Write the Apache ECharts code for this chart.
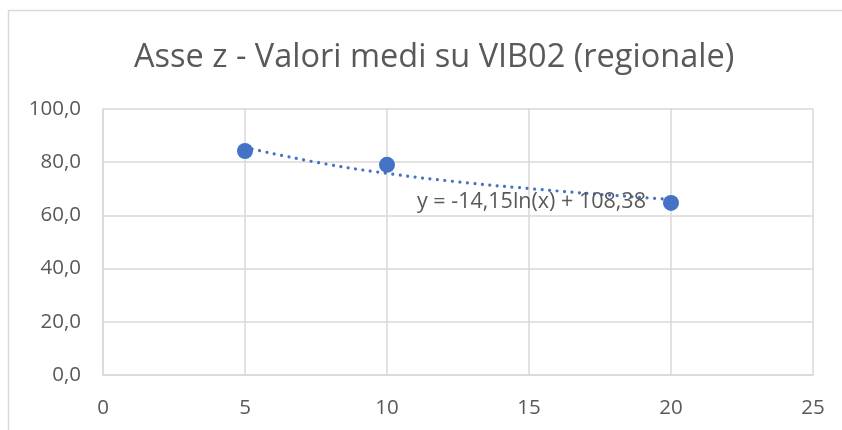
<!DOCTYPE html>
<html><head><meta charset="utf-8">
<script src="https://cdn.jsdelivr.net/npm/echarts@6/dist/echarts.min.js"></script>
<style>html,body{margin:0;padding:0;background:#fff}#c{width:842px;height:430px}</style>
</head><body><div id="c"></div>
<script>
const titleText = 'Asse z - Valori medi su VIB02 (regionale)';
const xValues = [5, 10, 20];
const yValues = [84.2, 79.0, 64.7];
const trendX = [5, 7.5, 10, 12.5, 15, 17.5, 20];
const trendY = [85.6, 80.0, 75.8, 72.6, 70.1, 67.9, 66.0];
const trendLabel = 'y = -14,15ln(x) + 108,38';

const chart = echarts.init(document.getElementById('c'));
const font = 'Open Sans, Liberation Sans, sans-serif';
chart.setOption({
  animation: false,
  backgroundColor: '#fff',
  title: { text: titleText, left: 129, top: 36,
    textStyle: { fontFamily: font, fontWeight: 'normal', fontSize: 32.5, color: '#595959' } },
  grid: { left: 103, right: 29, top: 109, bottom: 55 },
  xAxis: { type: 'value', min: 0, max: 25, interval: 5,
    axisLine: { show: true, lineStyle: { color: '#d9d9d9', width: 1.5 } },
    axisTick: { show: false },
    splitLine: { show: true, lineStyle: { color: '#d9d9d9', width: 1.5 } },
    axisLabel: { fontFamily: font, fontSize: 20.5, color: '#595959', margin: 23 } },
  yAxis: { type: 'value', min: 0, max: 100, interval: 20,
    axisLine: { show: true, lineStyle: { color: '#d9d9d9', width: 1.5 } },
    axisTick: { show: false },
    splitLine: { show: true, lineStyle: { color: '#d9d9d9', width: 1.5 } },
    axisLabel: { fontFamily: font, fontSize: 20.5, color: '#595959', margin: 22,
      formatter: v => v.toFixed(1).replace('.', ',') } },
  graphic: [
    { type: 'rect', shape: { x: 8.5, y: 10.5, width: 840, height: 430 },
      style: { fill: 'none', stroke: '#d9d9d9', lineWidth: 1.5 }, z: -1 },
    { type: 'text', left: 417, top: 191,
      style: { text: trendLabel, fontFamily: font, fontSize: 21.5, fill: '#595959' }, z: 10 }
  ],
  series: [
    { type: 'line', smooth: true, symbol: 'none',
      data: trendX.map((x, i) => [x, trendY[i]]),
      lineStyle: { color: '#4472C4', width: 3.2, type: [0.01, 7.5], cap: 'round' }, z: 2 },
    { type: 'scatter', symbolSize: 16,
      data: xValues.map((x, i) => [x, yValues[i]]),
      itemStyle: { color: '#4472C4', opacity: 1 }, z: 3 }
  ]
});
</script></body></html>
